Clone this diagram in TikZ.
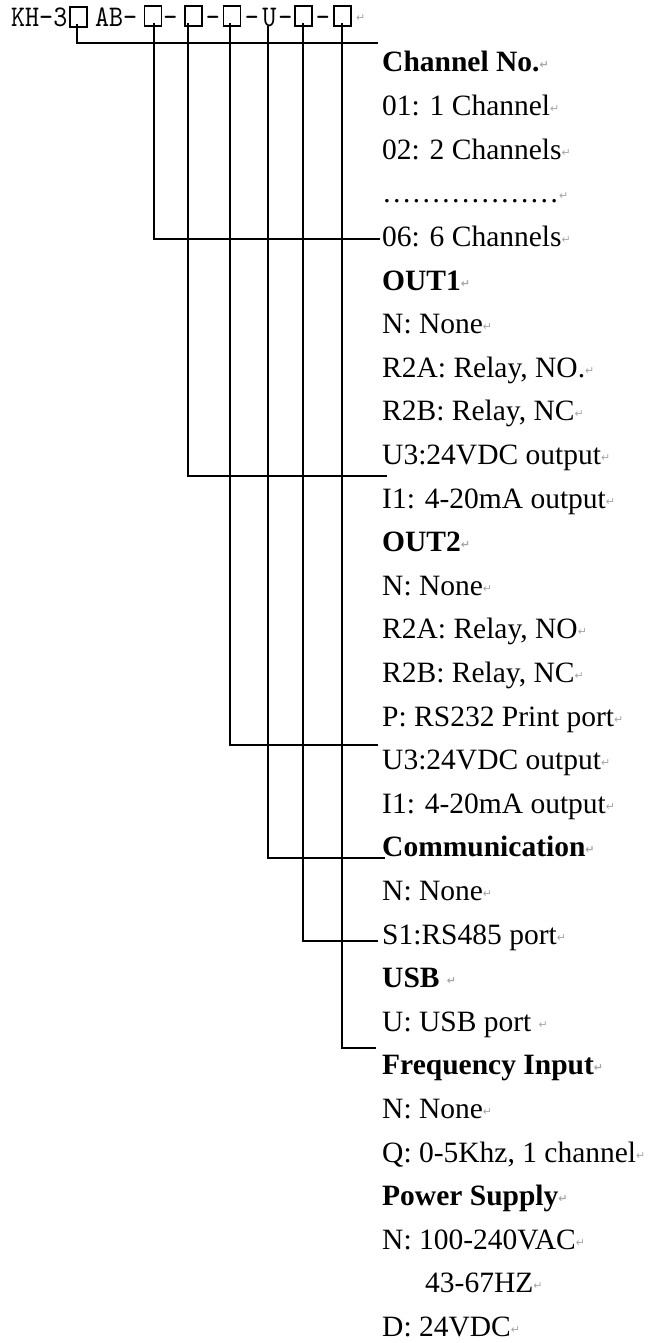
\documentclass[tikz,border=0pt]{standalone}
\usepackage{fontspec}
\setmainfont{Liberation Serif}
\newfontfamily\codefont[FakeStretch=0.89]{lmmono10-regular.otf}
\newfontfamily\symfont{DejaVu Sans}
\newcommand\retmark{\raisebox{3pt}{\symfont\fontsize{11}{11}\selectfont\color{black!35}↵}}
\begin{document}
\begin{tikzpicture}[x=1pt, y=-1pt,
	slot/.style={draw, line width=1.1pt, minimum width=17pt, minimum height=20pt, inner sep=0pt},
	code/.style={anchor=base, inner sep=0pt, font=\codefont\fontsize{30}{30}\selectfont},
	item/.style={anchor=base west, inner sep=0pt, font=\fontsize{29.5}{30}\selectfont},
	head/.style={item, font=\fontsize{29.5}{30}\selectfont\bfseries},
	lead/.style={line width=1.1pt}
	]
	\useasboundingbox (0,0) rectangle (650,1343);
	% model code
	\node[code, anchor=base west] (kh) at (11,27) {KH-3};
	\node[slot] (s1) at (78.5,17) {};
	\node[code, anchor=base west] (ab) at (95,27) {AB-};
	\node[slot] (s2) at (153,16) {};
	\node[code] (d1) at (170.5,27) {-};
	\node[slot] (s3) at (193.5,16) {};
	\node[code] (d2) at (213,27) {-};
	\node[slot] (s4) at (232,16) {};
	\node[code] (d3) at (252,27) {-};
	\node[code] (s5) at (269.5,27) {U};
	\node[code] (d4) at (285.5,27) {-};
	\node[slot] (s6) at (303.5,16) {};
	\node[code] (d5) at (323,27) {-};
	\node[slot] (s7) at (342.5,16) {};
	\node[anchor=base west, inner sep=0pt] (rm) at (356,25) {\retmark};
	% options
	\node[head] (r1) at (382,72) {Channel No.\retmark};
	\node[item] (r2) at (382,115.6) {01: 1 Channel\retmark};
	\node[item] (r3) at (382,159.2) {02: 2 Channels\retmark};
	\node[item] (r4) at (382,202.8) {………………\retmark};
	\node[item] (r5) at (382,246.4) {06: 6 Channels\retmark};
	\node[head] (r6) at (382,290) {OUT1\retmark};
	\node[item] (r7) at (382,333.6) {N: None\retmark};
	\node[item] (r8) at (382,377.2) {R2A: Relay, NO.\retmark};
	\node[item] (r9) at (382,420.8) {R2B: Relay, NC\retmark};
	\node[item] (r10) at (382,464.4) {U3:24VDC output\retmark};
	\node[item] (r11) at (382,508) {I1: 4-20mA output\retmark};
	\node[head] (r12) at (382,551.6) {OUT2\retmark};
	\node[item] (r13) at (382,595.2) {N: None\retmark};
	\node[item] (r14) at (382,638.8) {R2A: Relay, NO\retmark};
	\node[item] (r15) at (382,682.4) {R2B: Relay, NC\retmark};
	\node[item] (r16) at (382,726) {P: RS232 Print port\retmark};
	\node[item] (r17) at (382,769.6) {U3:24VDC output\retmark};
	\node[item] (r18) at (382,813.2) {I1: 4-20mA output\retmark};
	\node[head] (r19) at (382,856.8) {Communication\retmark};
	\node[item] (r20) at (382,900.4) {N: None\retmark};
	\node[item] (r21) at (382,944) {S1:RS485 port\retmark};
	\node[head] (r22) at (382,987.6) {USB \retmark};
	\node[item] (r23) at (382,1031.2) {U: USB port \retmark};
	\node[head] (r24) at (382,1074.8) {Frequency Input\retmark};
	\node[item] (r25) at (382,1118.4) {N: None\retmark};
	\node[item] (r26) at (382,1162) {Q: 0-5Khz, 1 channel\retmark};
	\node[head] (r27) at (382,1205.6) {Power Supply\retmark};
	\node[item] (r28) at (382,1249.2) {N: 100-240VAC\retmark};
	\node[item] (r29) at (382,1292.8) {\hspace*{43pt}43-67HZ\retmark};
	\node[item] (r30) at (382,1336.4) {D: 24VDC\retmark};
	% leads
	\coordinate (e1) at (378,43);
	\coordinate (e2) at (380,239);
	\coordinate (e3) at (387,476);
	\coordinate (e4) at (378,745);
	\coordinate (e5) at (385,858);
	\coordinate (e6) at (378,941);
	\coordinate (e7) at (376,1048);
	\draw[lead] ([shift={(-1.5,-4)}]s1.south) |- (e1);
	\draw[lead] ([shift={(1,-4)}]s2.south) |- (e2);
	\draw[lead] ([shift={(-5.5,-4)}]s3.south) |- (e3);
	\draw[lead] ([shift={(-2,-4)}]s4.south) |- (e4);
	\draw[lead] ([shift={(-1.5,-2)}]s5.south) |- (e5);
	\draw[lead] ([shift={(-0.5,-4)}]s6.south) |- (e6);
	\draw[lead] ([shift={(-0.5,-4)}]s7.south) |- (e7);
\end{tikzpicture}
\end{document}
